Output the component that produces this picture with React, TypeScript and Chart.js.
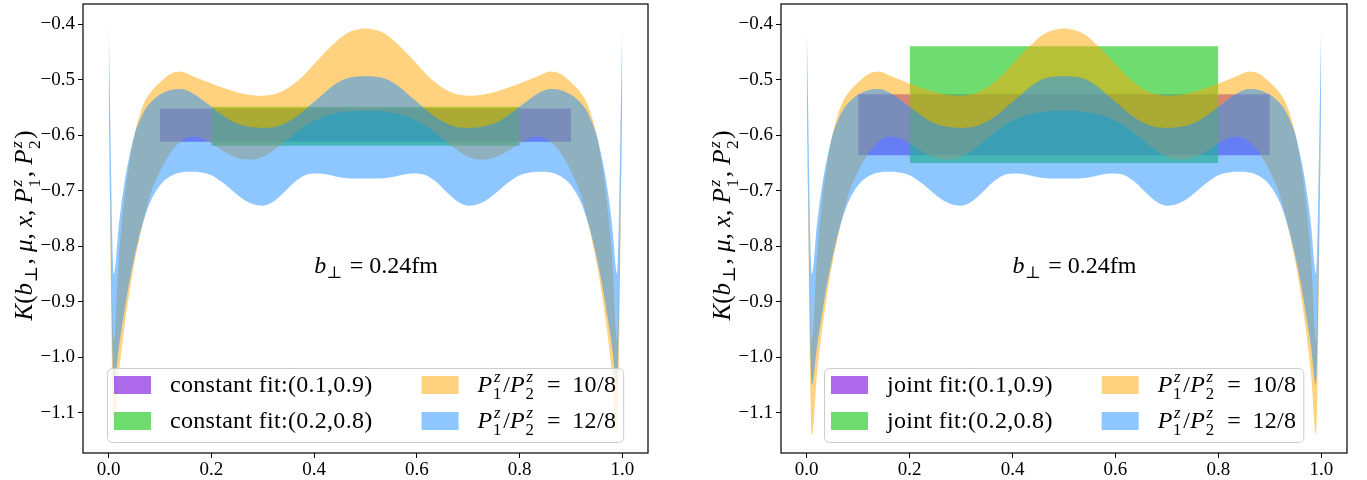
import React, { useEffect, useRef } from "react";
import { Chart, registerables } from "chart.js";

Chart.register(...registerables);

// ---------- data ----------
const X_GRID = [0, 0.01, 0.02, 0.03, 0.04, 0.05, 0.06, 0.07, 0.08, 0.1, 0.12, 0.14, 0.16, 0.18, 0.2, 0.22, 0.24, 0.26, 0.28, 0.3, 0.32, 0.34, 0.36, 0.38, 0.4, 0.42, 0.44, 0.46, 0.48, 0.5, 0.52, 0.54, 0.56, 0.58, 0.6, 0.62, 0.64, 0.66, 0.68, 0.7, 0.72, 0.74, 0.76, 0.78, 0.8, 0.82, 0.84, 0.86, 0.88, 0.9, 0.92, 0.93, 0.94, 0.95, 0.96, 0.97, 0.98, 0.99, 1.0];

// P1/P2 = 10/8 band (orange)
const ORANGE_UPPER = [-0.54, -0.97, -0.82, -0.72, -0.65, -0.6, -0.565, -0.54, -0.525, -0.505, -0.49, -0.4855, -0.492, -0.5, -0.507, -0.514, -0.52, -0.525, -0.528, -0.529, -0.527, -0.52, -0.508, -0.492, -0.472, -0.452, -0.434, -0.419, -0.411, -0.408, -0.411, -0.419, -0.434, -0.452, -0.472, -0.492, -0.508, -0.52, -0.527, -0.529, -0.528, -0.525, -0.52, -0.514, -0.507, -0.5, -0.492, -0.4855, -0.49, -0.505, -0.525, -0.54, -0.565, -0.6, -0.65, -0.72, -0.82, -0.97, -0.54];
const ORANGE_LOWER = [-0.545, -1.14, -1.03, -0.95, -0.885, -0.83, -0.785, -0.745, -0.71, -0.665, -0.632, -0.612, -0.603, -0.605, -0.615, -0.627, -0.637, -0.643, -0.644, -0.639, -0.628, -0.614, -0.599, -0.585, -0.574, -0.566, -0.561, -0.558, -0.556, -0.556, -0.556, -0.558, -0.561, -0.566, -0.574, -0.585, -0.599, -0.614, -0.628, -0.639, -0.644, -0.643, -0.637, -0.627, -0.615, -0.605, -0.603, -0.612, -0.632, -0.665, -0.71, -0.745, -0.785, -0.83, -0.885, -0.95, -1.03, -1.14, -0.545];

// P1/P2 = 12/8 band (blue)
const BLUE_UPPER = [-0.4, -0.85, -0.76, -0.69, -0.64, -0.6, -0.575, -0.555, -0.543, -0.527, -0.519, -0.517, -0.523, -0.535, -0.549, -0.563, -0.575, -0.582, -0.586, -0.587, -0.586, -0.58, -0.57, -0.556, -0.54, -0.524, -0.509, -0.499, -0.495, -0.494, -0.495, -0.499, -0.509, -0.524, -0.54, -0.556, -0.57, -0.58, -0.586, -0.587, -0.586, -0.582, -0.575, -0.563, -0.549, -0.535, -0.523, -0.517, -0.519, -0.527, -0.543, -0.555, -0.575, -0.6, -0.64, -0.69, -0.76, -0.85, -0.4];
const BLUE_LOWER = [-0.545, -1.05, -0.98, -0.92, -0.865, -0.82, -0.78, -0.748, -0.722, -0.69, -0.674, -0.667, -0.666, -0.667, -0.672, -0.684, -0.699, -0.714, -0.724, -0.727, -0.72, -0.704, -0.686, -0.673, -0.669, -0.67, -0.674, -0.677, -0.678, -0.678, -0.678, -0.677, -0.674, -0.67, -0.669, -0.673, -0.686, -0.704, -0.72, -0.727, -0.724, -0.714, -0.699, -0.684, -0.672, -0.667, -0.666, -0.667, -0.674, -0.69, -0.722, -0.748, -0.78, -0.82, -0.865, -0.92, -0.98, -1.05, -0.545];

// fit windows and fitted bands
const FIT_RANGES = [[0.1, 0.9], [0.2, 0.8]];
const LEFT_FIT_LOW = [-0.612, -0.619];
const LEFT_FIT_HIGH = [-0.552, -0.549];
const RIGHT_FIT_LOW = [-0.636, -0.65];
const RIGHT_FIT_HIGH = [-0.5265, -0.44];
const LEFT_FIT_LABELS = ["constant fit:(0.1,0.9)", "constant fit:(0.2,0.8)"];
const RIGHT_FIT_LABELS = ["joint fit:(0.1,0.9)", "joint fit:(0.2,0.8)"];
const RATIO_LABELS = ["10/8", "12/8"];

const X_TICKS = [0, 0.2, 0.4, 0.6, 0.8, 1.0];
const Y_TICKS = [-1.1, -1.0, -0.9, -0.8, -0.7, -0.6, -0.5, -0.4];
const X_MIN = -0.05;
const X_MAX = 1.05;
const Y_MIN = -1.172;
const Y_MAX = -0.364;

const ANNOT_X = 0.4;
const ANNOT_Y = -0.848;
const ANNOT_TEXT = " = 0.24fm";

// ---------- styles ----------
const PURPLE = "rgba(138,43,226,0.7)";
const GREEN = "rgba(50,205,50,0.7)";
const ORANGE = "rgba(255,165,0,0.5)";
const BLUE = "rgba(30,144,255,0.5)";
const FAMILY = '"Liberation Serif", "DejaVu Serif", "DejaVu Sans", serif';

type Piece =
  | { kind: "text"; text: string; italic?: boolean }
  | { kind: "script"; sub?: string; sup?: string };

function fontStr(size: number, italic: boolean) {
  return `${italic ? "italic " : ""}${size}px ${FAMILY}`;
}

function measurePieces(ctx: CanvasRenderingContext2D, pieces: Piece[], size: number) {
  let w = 0;
  for (const p of pieces) {
    if (p.kind === "text") {
      ctx.font = fontStr(size, !!p.italic);
      w += ctx.measureText(p.text).width;
    } else {
      const s = size * 0.7;
      let sw = 0;
      if (p.sub) {
        ctx.font = fontStr(s, false);
        sw = Math.max(sw, ctx.measureText(p.sub).width);
      }
      if (p.sup) {
        ctx.font = fontStr(s, true);
        sw = Math.max(sw, ctx.measureText(p.sup).width);
      }
      w += sw + size * 0.08;
    }
  }
  return w;
}

function drawPieces(ctx: CanvasRenderingContext2D, pieces: Piece[], x: number, y: number, size: number) {
  let cx = x;
  ctx.textAlign = "left";
  ctx.textBaseline = "alphabetic";
  for (const p of pieces) {
    if (p.kind === "text") {
      ctx.font = fontStr(size, !!p.italic);
      ctx.fillText(p.text, cx, y);
      cx += ctx.measureText(p.text).width;
    } else {
      const s = size * 0.7;
      let sw = 0;
      if (p.sub) {
        ctx.font = fontStr(s, false);
        ctx.fillText(p.sub, cx + size * 0.02, y + (p.sup ? 0.3 : 0.2) * size);
        sw = Math.max(sw, ctx.measureText(p.sub).width);
      }
      if (p.sup) {
        ctx.font = fontStr(s, true);
        ctx.fillText(p.sup, cx + size * 0.06, y - 0.4 * size);
        sw = Math.max(sw, ctx.measureText(p.sup).width);
      }
      cx += sw + size * 0.08;
    }
  }
}

const TITLE_PIECES: Piece[] = [
  { kind: "text", text: "K", italic: true },
  { kind: "text", text: "(" },
  { kind: "text", text: "b", italic: true },
  { kind: "script", sub: "\u22A5" },
  { kind: "text", text: ", " },
  { kind: "text", text: "\u03BC", italic: true },
  { kind: "text", text: ", " },
  { kind: "text", text: "x", italic: true },
  { kind: "text", text: ", " },
  { kind: "text", text: "P", italic: true },
  { kind: "script", sub: "1", sup: "z" },
  { kind: "text", text: ", " },
  { kind: "text", text: "P", italic: true },
  { kind: "script", sub: "2", sup: "z" },
  { kind: "text", text: ")" },
];

const ANNOT_PIECES: Piece[] = [
  { kind: "text", text: "b", italic: true },
  { kind: "script", sub: "\u22A5" },
  { kind: "text", text: ANNOT_TEXT },
];

function ratioPieces(r: string): Piece[] {
  return [
    { kind: "text", text: "P", italic: true },
    { kind: "script", sub: "1", sup: "z" },
    { kind: "text", text: "/" },
    { kind: "text", text: "P", italic: true },
    { kind: "script", sub: "2", sup: "z" },
    { kind: "text", text: " \u2009=\u2009 " + r },
  ];
}

function drawLegend(ctx: CanvasRenderingContext2D, ca: any, fitLabels: string[]) {
  const fs = 24;
  ctx.save();
  try {
    (ctx as any).letterSpacing = "0.3px";
  } catch (e) {}
  ctx.font = fontStr(fs, false);
  const col1 = Math.max(...fitLabels.map((l) => ctx.measureText(l).width));
  const col2 = Math.max(...RATIO_LABELS.map((r) => measurePieces(ctx, ratioPieces(r), fs)));
  const pad = 7, pw = 37, ph = 18, gap = 19, colGap = 49, rowH = 36, boxH = 74;
  const boxW = pad + pw + gap + col1 + colGap + pw + gap + col2 + pad;
  const left = Math.round((ca.left + ca.right) / 2 - boxW / 2);
  const top = Math.round(ca.bottom - 11 - boxH);
  ctx.beginPath();
  if ((ctx as any).roundRect) (ctx as any).roundRect(left + 0.5, top + 0.5, boxW, boxH, 5);
  else ctx.rect(left + 0.5, top + 0.5, boxW, boxH);
  ctx.fillStyle = "rgba(255,255,255,0.8)";
  ctx.fill();
  ctx.strokeStyle = "#cccccc";
  ctx.lineWidth = 1;
  ctx.stroke();
  const c1 = [PURPLE, GREEN];
  const c2 = [ORANGE, BLUE];
  for (let r = 0; r < 2; r++) {
    const cy = top + 17 + r * rowH;
    ctx.fillStyle = c1[r];
    ctx.fillRect(left + pad, cy - ph / 2, pw, ph);
    ctx.fillStyle = "#000";
    ctx.font = fontStr(fs, false);
    ctx.textAlign = "left";
    ctx.textBaseline = "alphabetic";
    ctx.fillText(fitLabels[r], left + pad + pw + gap, cy + 7);
    const x2 = left + pad + pw + gap + col1 + colGap;
    ctx.fillStyle = c2[r];
    ctx.fillRect(x2, cy - ph / 2, pw, ph);
    ctx.fillStyle = "#000";
    drawPieces(ctx, ratioPieces(RATIO_LABELS[r]), x2 + pw + gap, cy + 7, fs);
  }
  ctx.restore();
}

function fmtTick(v: number) {
  const s = Math.abs(v).toFixed(1);
  return v < -1e-9 ? "\u2212" + s : s;
}

function rectDatasets(lo: number, hi: number, range: number[], color: string, order: number) {
  return [
    {
      data: [{ x: range[0], y: hi }, { x: range[1], y: hi }],
      fill: "+1",
      backgroundColor: color,
      borderColor: "rgba(0,0,0,0)",
      borderWidth: 0,
      pointRadius: 0,
      tension: 0,
      order,
    },
    {
      data: [{ x: range[0], y: lo }, { x: range[1], y: lo }],
      fill: false,
      borderColor: "rgba(0,0,0,0)",
      borderWidth: 0,
      pointRadius: 0,
      tension: 0,
      order,
    },
  ];
}

function bandDatasets(upper: number[], lower: number[], color: string, order: number) {
  const base = {
    borderColor: "rgba(0,0,0,0)",
    borderWidth: 0,
    pointRadius: 0,
    cubicInterpolationMode: "monotone",
    order,
  };
  return [
    { ...base, data: X_GRID.map((x, i) => ({ x, y: upper[i] })), fill: "+1", backgroundColor: color },
    { ...base, data: X_GRID.map((x, i) => ({ x, y: lower[i] })), fill: false },
  ];
}

function makeConfig(opts: {
  fitLow: number[];
  fitHigh: number[];
  fitLabels: string[];
  yAxisWidth: number;
  padRight: number;
  titleOffset: number;
}) {
  const decor = {
    id: "panelDecor",
    afterDraw(chart: any) {
      const ctx: CanvasRenderingContext2D = chart.ctx;
      const ca = chart.chartArea;
      const xs = chart.scales.x;
      const ys = chart.scales.y;
      ctx.save();
      ctx.fillStyle = "#000";
      drawPieces(ctx, ANNOT_PIECES, xs.getPixelForValue(ANNOT_X), ys.getPixelForValue(ANNOT_Y), 24);
      drawLegend(ctx, ca, opts.fitLabels);
      ctx.strokeStyle = "#000";
      ctx.lineWidth = 1.2;
      ctx.strokeRect(ca.left, ca.top, ca.right - ca.left, ca.bottom - ca.top);
      ctx.translate(ca.left - opts.titleOffset, (ca.top + ca.bottom) / 2 - 3);
      ctx.rotate(-Math.PI / 2);
      ctx.fillStyle = "#000";
      const w = measurePieces(ctx, TITLE_PIECES, 25);
      drawPieces(ctx, TITLE_PIECES, -w / 2, 0, 25);
      ctx.restore();
    },
  };
  const tickFont = { family: FAMILY, size: 19 };
  return {
    type: "line",
    data: {
      datasets: [
        ...rectDatasets(opts.fitLow[0], opts.fitHigh[0], FIT_RANGES[0], PURPLE, 8),
        ...rectDatasets(opts.fitLow[1], opts.fitHigh[1], FIT_RANGES[1], GREEN, 6),
        ...bandDatasets(ORANGE_UPPER, ORANGE_LOWER, ORANGE, 4),
        ...bandDatasets(BLUE_UPPER, BLUE_LOWER, BLUE, 2),
      ],
    },
    options: {
      responsive: false,
      maintainAspectRatio: false,
      animation: false,
      events: [],
      layout: { padding: { left: 0, right: opts.padRight, top: 4, bottom: 0 } },
      plugins: {
        legend: { display: false },
        tooltip: { enabled: false },
        filler: { propagate: false },
      },
      scales: {
        x: {
          type: "linear",
          min: X_MIN,
          max: X_MAX,
          afterBuildTicks: (s: any) => {
            s.ticks = X_TICKS.map((value) => ({ value }));
          },
          afterFit: (s: any) => {
            s.height = 27;
            s.paddingLeft = 0;
            s.paddingRight = 0;
          },
          grid: { display: true, drawOnChartArea: false, drawTicks: true, tickLength: 5, color: "#000", lineWidth: 1 },
          border: { display: false },
          ticks: { font: tickFont, color: "#000", padding: 1, maxRotation: 0, autoSkip: false, callback: (v: number) => fmtTick(v) },
        },
        y: {
          type: "linear",
          min: Y_MIN,
          max: Y_MAX,
          afterBuildTicks: (s: any) => {
            s.ticks = Y_TICKS.map((value) => ({ value }));
          },
          afterFit: (s: any) => {
            s.width = opts.yAxisWidth;
            s.paddingTop = 0;
            s.paddingBottom = 0;
          },
          grid: { display: true, drawOnChartArea: false, drawTicks: true, tickLength: 5, color: "#000", lineWidth: 1 },
          border: { display: false },
          ticks: { font: tickFont, color: "#000", padding: 3, autoSkip: false, callback: (v: number) => fmtTick(v) },
        },
      },
    },
    plugins: [decor],
  };
}

function Panel(props: { left: number; width: number; cfg: any }) {
  const ref = useRef<HTMLCanvasElement | null>(null);
  useEffect(() => {
    if (!ref.current) return;
    const chart = new Chart(ref.current, props.cfg);
    return () => chart.destroy();
  }, []);
  return (
    <canvas
      ref={ref}
      width={props.width}
      height={480}
      style={{ position: "absolute", left: props.left, top: 0, width: props.width, height: 480 }}
    />
  );
}

export default function App() {
  const leftCfg = makeConfig({
    fitLow: LEFT_FIT_LOW,
    fitHigh: LEFT_FIT_HIGH,
    fitLabels: LEFT_FIT_LABELS,
    yAxisWidth: 83,
    padRight: 35,
    titleOffset: 51,
  });
  const rightCfg = makeConfig({
    fitLow: RIGHT_FIT_LOW,
    fitHigh: RIGHT_FIT_HIGH,
    fitLabels: RIGHT_FIT_LABELS,
    yAxisWidth: 98,
    padRight: 20,
    titleOffset: 51,
  });
  return (
    <div style={{ position: "absolute", left: 0, top: 0, width: 1367, height: 480, background: "#fff", overflow: "hidden" }}>
      <Panel left={0} width={683} cfg={leftCfg} />
      <Panel left={683} width={684} cfg={rightCfg} />
    </div>
  );
}
